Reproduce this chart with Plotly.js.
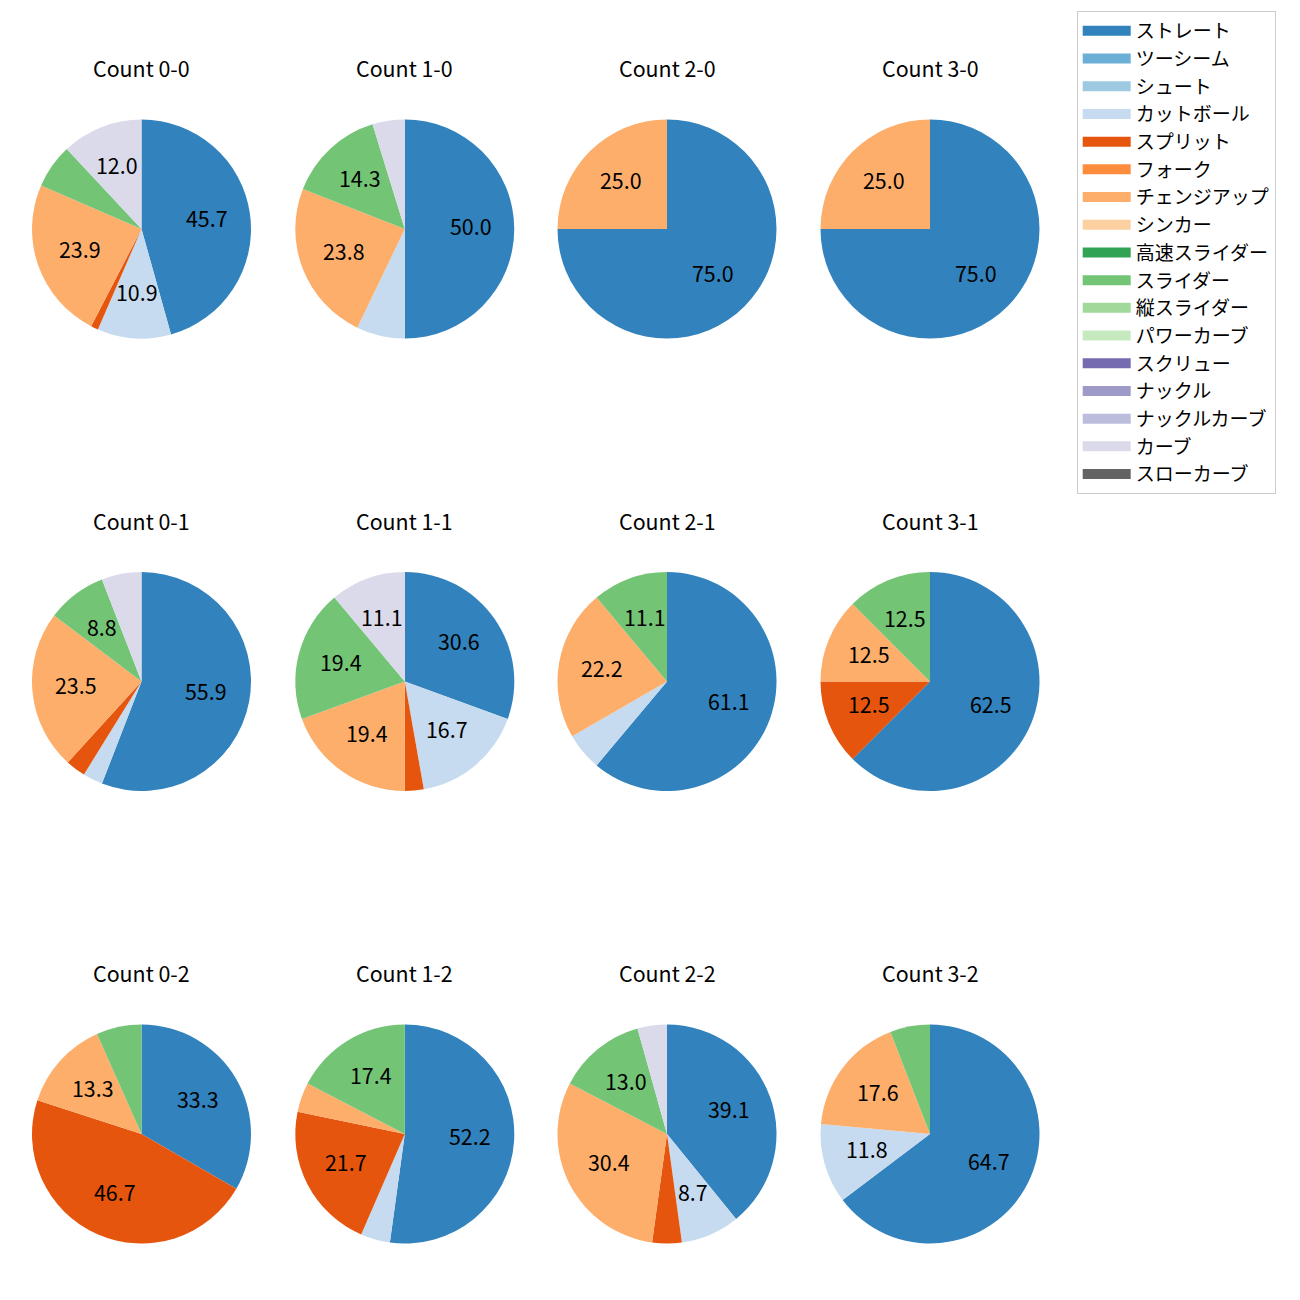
<!DOCTYPE html>
<html>
<head>
<meta charset="utf-8">
<script src="https://cdn.plot.ly/plotly-3.0.1.min.js"></script>
<style>html,body{margin:0;padding:0;background:#fff;}</style>
</head>
<body>
<div id="chart" style="width:1300px;height:1300px;"></div>
<script>
// ---- data ----
const pitchTypes = ['ストレート','ツーシーム','シュート','カットボール','スプリット','フォーク','チェンジアップ','シンカー','高速スライダー','スライダー','縦スライダー','パワーカーブ','スクリュー','ナックル','ナックルカーブ','カーブ','スローカーブ'];
const pitchColors = ['#3182bd','#6baed6','#9ecae1','#c6dbef','#e6550d','#fd8d3c','#fdae6b','#fdd0a2','#31a354','#74c476','#a1d99b','#c7e9c0','#756bb1','#9e9ac8','#bcbddc','#dadaeb','#636363'];
const countTitles = ['Count 0-0','Count 1-0','Count 2-0','Count 3-0','Count 0-1','Count 1-1','Count 2-1','Count 3-1','Count 0-2','Count 1-2','Count 2-2','Count 3-2'];
// pitch counts per ball-strike count, in pitchTypes order
const count00 = [42,0,0,10,1,0,22,0,0,6,0,0,0,0,0,11,0];
const count10 = [21,0,0,3,0,0,10,0,0,6,0,0,0,0,0,2,0];
const count20 = [3,0,0,0,0,0,1,0,0,0,0,0,0,0,0,0,0];
const count30 = [3,0,0,0,0,0,1,0,0,0,0,0,0,0,0,0,0];
const count01 = [19,0,0,1,1,0,8,0,0,3,0,0,0,0,0,2,0];
const count11 = [11,0,0,6,1,0,7,0,0,7,0,0,0,0,0,4,0];
const count21 = [11,0,0,1,0,0,4,0,0,2,0,0,0,0,0,0,0];
const count31 = [5,0,0,0,1,0,1,0,0,1,0,0,0,0,0,0,0];
const count02 = [5,0,0,0,7,0,2,0,0,1,0,0,0,0,0,0,0];
const count12 = [12,0,0,1,5,0,1,0,0,4,0,0,0,0,0,0,0];
const count22 = [9,0,0,2,1,0,7,0,0,3,0,0,0,0,0,1,0];
const count32 = [11,0,0,2,0,0,3,0,0,1,0,0,0,0,0,0,0];
const countValues = [count00,count10,count20,count30,count01,count11,count21,count31,count02,count12,count22,count32];

// ---- layout geometry ----
const W = 1300, H = 1300;
const colCenters = [141.5, 404.8, 667, 930];
const rowCenters = [229, 681.5, 1134];
const R = 109.5;
const PCT_DIST = 0.6;
const FONT = '"Noto Sans CJK JP", "Noto Sans", sans-serif';
const TXT_SIZE = 21.4;

const traces = [];
const annotations = [];
countValues.forEach((vals, k) => {
  const row = Math.floor(k / 4), col = k % 4;
  const cx = colCenters[col], cy = rowCenters[row];
  const total = vals.reduce((a, b) => a + b, 0);
  traces.push({
    type: 'pie',
    labels: pitchTypes,
    values: vals,
    textinfo: 'none',
    marker: {colors: pitchColors, line: {width: 0}},
    sort: false,
    direction: 'clockwise',
    rotation: 0,
    showlegend: false,
    hoverinfo: 'skip',
    domain: {x: [(cx - R) / W, (cx + R) / W], y: [1 - (cy + R) / H, 1 - (cy - R) / H]}
  });
  // percentage labels (autopct-style, at 0.6 of the radius on each slice's mid-angle)
  let cum = 0;
  vals.forEach(v => {
    const p = v / total * 100;
    const mid = (cum + v / 2) / total;
    cum += v;
    if (p < 8) return;
    const ang = 2 * Math.PI * mid;
    const px = cx + PCT_DIST * R * Math.sin(ang);
    const py = cy - PCT_DIST * R * Math.cos(ang);
    annotations.push({
      text: p.toFixed(1),
      xref: 'paper', yref: 'paper',
      x: px / W, y: 1 - py / H,
      xanchor: 'center', yanchor: 'middle',
      yshift: 3,
      showarrow: false,
      font: {family: FONT, size: TXT_SIZE, color: '#000000'}
    });
  });
  annotations.push({
    text: countTitles[k],
    xref: 'paper', yref: 'paper',
    x: cx / W, y: 1 - (cy - 161.5) / H,
    xanchor: 'center', yanchor: 'middle',
    showarrow: false,
    font: {family: FONT, size: TXT_SIZE, color: '#000000'}
  });
});

// legend entries
pitchTypes.forEach((name, i) => {
  traces.push({
    type: 'scatter', mode: 'lines',
    x: [null], y: [null],
    name: name,
    line: {color: pitchColors[i], width: 13},
    showlegend: true,
    hoverinfo: 'skip'
  });
});

const layout = {
  width: W, height: H,
  margin: {l: 0, r: 0, t: 0, b: 0},
  paper_bgcolor: '#ffffff',
  plot_bgcolor: '#ffffff',
  xaxis: {visible: false},
  yaxis: {visible: false},
  showlegend: true,
  legend: {
    x: 1076.7 / W, y: 1 - 11 / H,
    xanchor: 'left', yanchor: 'top',
    bgcolor: '#ffffff',
    bordercolor: '#cccccc', borderwidth: 1,
    font: {family: FONT, size: 19, color: '#000000'},
    itemwidth: 48,
    traceorder: 'normal'
  },
  annotations: annotations
};

Plotly.newPlot('chart', traces, layout, {displayModeBar: false, staticPlot: true});
</script>
</body>
</html>
